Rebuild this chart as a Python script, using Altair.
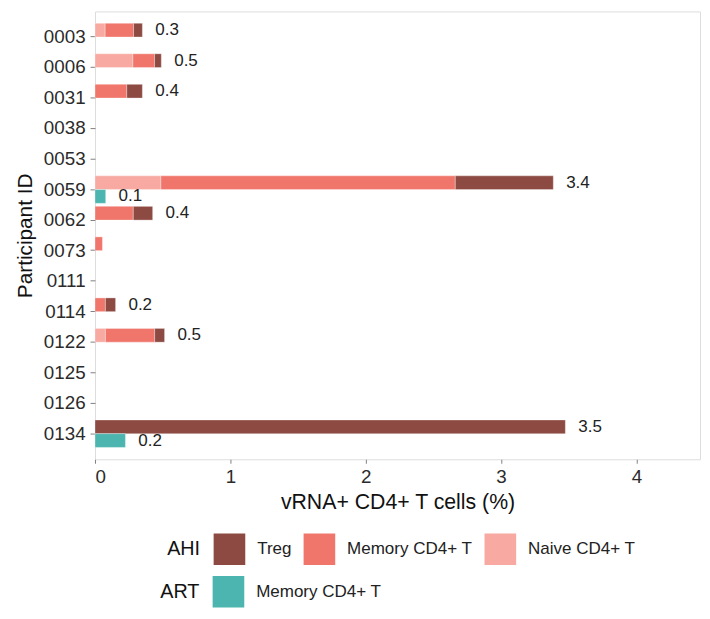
import altair as alt
import pandas as pd

participants = ["0003", "0006", "0031", "0038", "0053", "0059", "0062",
                "0073", "0111", "0114", "0122", "0125", "0126", "0134"]
ahi_naive  = [0.075, 0.28, 0, 0, 0, 0.487, 0, 0, 0, 0, 0.077, 0, 0, 0]
ahi_memory = [0.21, 0.16, 0.235, 0, 0, 2.175, 0.283, 0.055, 0, 0.077, 0.364, 0, 0, 0]
ahi_treg   = [0.065, 0.05, 0.115, 0, 0, 0.724, 0.143, 0, 0, 0.075, 0.073, 0, 0, 3.475]
art_memory = [0, 0, 0, 0, 0, 0.079, 0, 0, 0, 0, 0, 0, 0, 0.225]
ahi_labels = ["0.3", "0.5", "0.4", "", "", "3.4", "0.4", "", "", "0.2", "0.5", "", "", "3.5"]
art_labels = ["", "", "", "", "", "0.1", "", "", "", "", "", "", "", "0.2"]

ahi_cells = ["Treg", "Memory CD4+ T", "Naive CD4+ T"]
ahi_colors = ["#8C4A42", "#F0766B", "#F8A9A1"]
art_cells = ["Memory CD4+ T"]
art_colors = ["#4DB5AF"]

ahi_rows, art_rows, lab_rows = [], [], []
for i, p in enumerate(participants):
    start = 0.0
    for name, arr in [("Naive CD4+ T", ahi_naive), ("Memory CD4+ T", ahi_memory), ("Treg", ahi_treg)]:
        v = arr[i]
        if v > 0:
            ahi_rows.append(dict(pid=p, grp="AHI", cell=name, x0=start, x1=start + v))
            start += v
    if ahi_labels[i]:
        lab_rows.append(dict(pid=p, grp="AHI", total=start, label=ahi_labels[i]))
    v = art_memory[i]
    if v > 0:
        art_rows.append(dict(pid=p, grp="ART", cell="Memory CD4+ T", x0=0.0, x1=v))
    if art_labels[i]:
        lab_rows.append(dict(pid=p, grp="ART", total=v, label=art_labels[i]))

ahi_df = pd.DataFrame(ahi_rows)
art_df = pd.DataFrame(art_rows)
lab_df = pd.DataFrame(lab_rows)

FONT = "Liberation Sans"

xscale = alt.Scale(domain=[0, 4.47], nice=False, zero=True)
yenc = alt.Y("pid:N", sort=participants,
             scale=alt.Scale(domain=participants, paddingInner=0, paddingOuter=0.338),
             axis=alt.Axis(title="Participant ID", labelFontSize=19, titleFontSize=21,
                           tickSize=5, labelPadding=5, titlePadding=8,
                           labelColor="#2b2b2b", titleColor="#111111",
                           tickColor="#7f7f7f", domain=False, grid=False,
                           titleFontWeight="normal"))
yoff = alt.YOffset("grp:N", scale=alt.Scale(domain=["AHI", "ART"], paddingInner=0, paddingOuter=0.111))
xaxis = alt.Axis(title="vRNA+ CD4+ T cells (%)", values=[0, 1, 2, 3, 4], format="d",
                 labelFontSize=19, titleFontSize=21.5, tickSize=4, labelPadding=4,
                 titlePadding=6, labelColor="#2b2b2b", titleColor="#111111",
                 tickColor="#7f7f7f", domain=False, grid=False, titleFontWeight="normal")


def leg(title_x, y):
    return alt.Legend(orient="none", legendX=title_x, legendY=y, direction="horizontal",
                      titleOrient="left", symbolType="square", symbolSize=1024,
                      symbolStrokeWidth=0, labelFontSize=17.2, titleFontSize=20,
                      labelOffset=12, columnPadding=12, titlePadding=13, padding=0,
                      labelColor="#222222", titleColor="#111111", titleFontWeight="normal",
                      labelFont=FONT, titleFont=FONT)


bar_style = dict(stroke="white", strokeWidth=0.6, strokeOpacity=0.55)

ahi_bars = alt.Chart(ahi_df).mark_bar(**bar_style).encode(
    x=alt.X("x0:Q", scale=xscale, axis=xaxis),
    x2="x1:Q",
    y=yenc,
    yOffset=yoff,
    color=alt.Color("cell:N", title="AHI",
                    scale=alt.Scale(domain=ahi_cells, range=ahi_colors),
                    legend=leg(73, 528)),
)

art_bars = alt.Chart(art_df).mark_bar(**bar_style).encode(
    x=alt.X("x0:Q", scale=xscale, axis=xaxis),
    x2="x1:Q",
    y=yenc,
    yOffset=yoff,
    color=alt.Color("cell:N", title="ART",
                    scale=alt.Scale(domain=art_cells, range=art_colors),
                    legend=leg(66, 571)),
)

labels = alt.Chart(lab_df).mark_text(align="left", baseline="middle", dx=13,
                                     fontSize=17.2, color="#222222", font=FONT).encode(
    x=alt.X("total:Q", scale=xscale, axis=xaxis),
    y=yenc,
    yOffset=yoff,
    text="label:N",
)

chart = alt.layer(ahi_bars, art_bars, labels).resolve_scale(color="independent").properties(
    width=612, height=453,
    padding={"left": 88, "top": 0, "right": 2, "bottom": 150},
    autosize=alt.AutoSizeParams(type="none"),
).configure_view(stroke="#7f7f7f", strokeWidth=1).configure(
    font=FONT
).configure_axis(labelFont=FONT, titleFont=FONT)

chart.save("out.html", embed_options={"renderer": "svg", "actions": False})
